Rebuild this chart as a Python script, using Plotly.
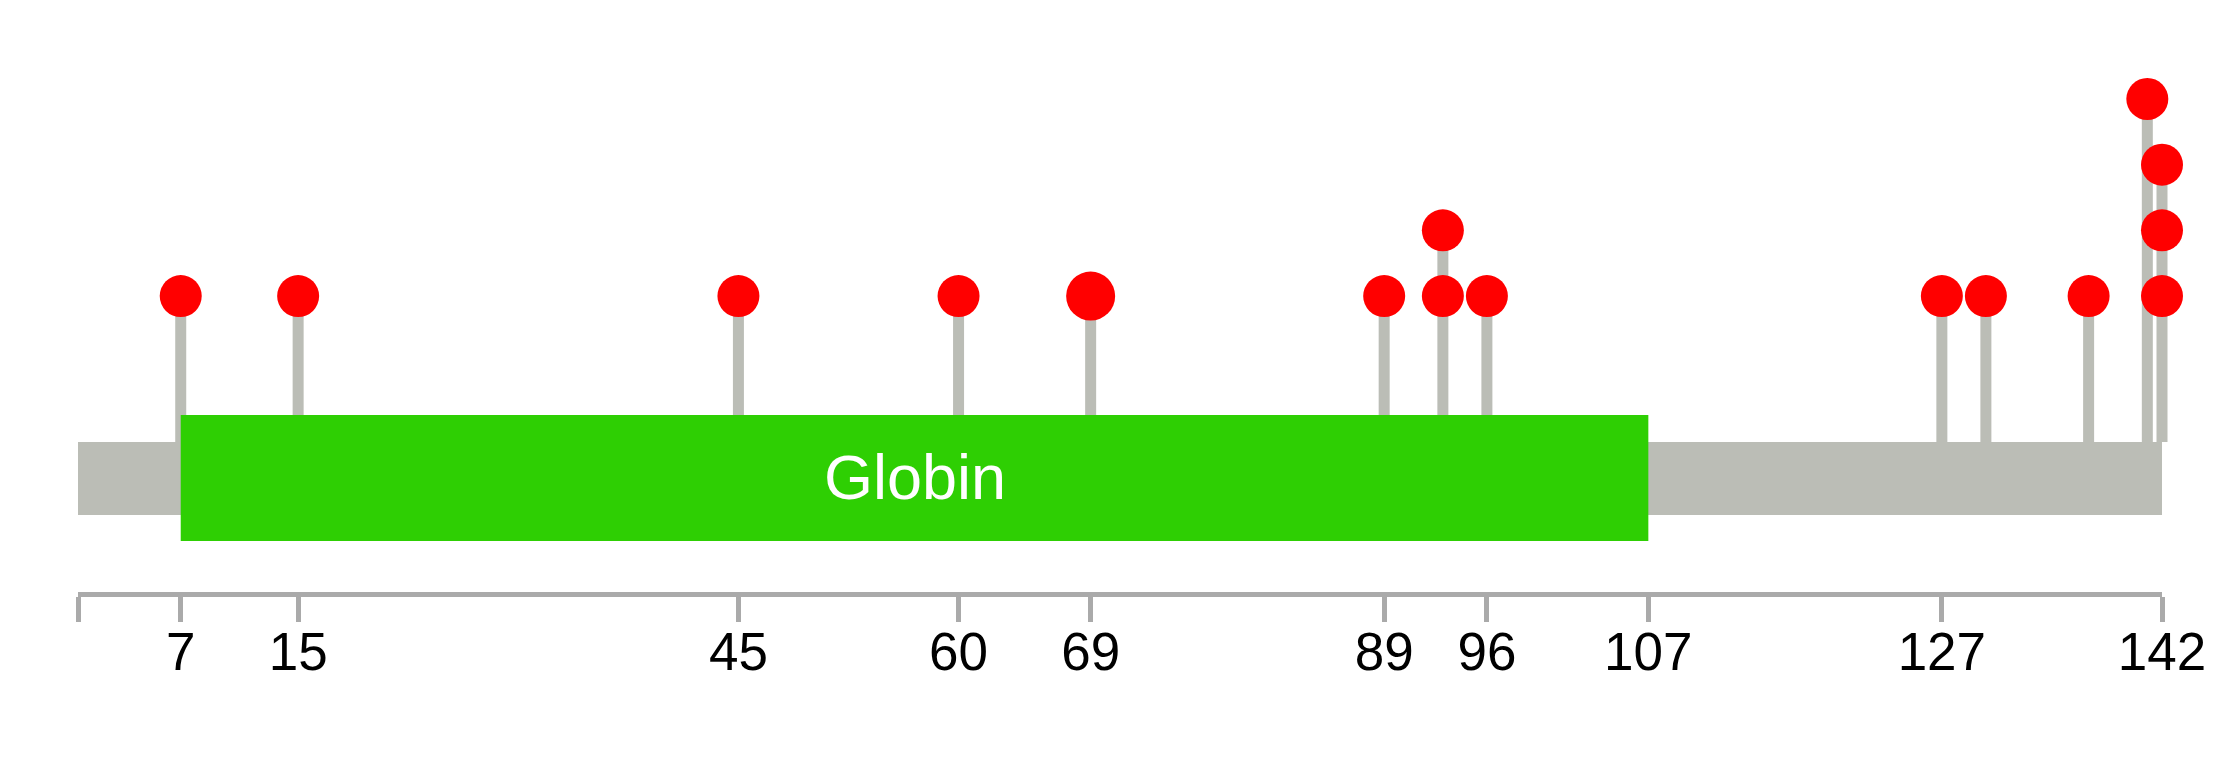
import plotly.graph_objects as go

# ---------------- data ----------------
protein_length = 142
domain_names = ["Globin"]
domain_starts = [7]
domain_ends = [107]

mut_positions = [7, 15, 45, 60, 69, 89, 93, 93, 96, 127, 130, 137, 141, 142, 142, 142]
mut_levels = [1, 1, 1, 1, 1, 1, 1, 2, 1, 1, 1, 1, 4, 1, 2, 3]
mut_samples = [1, 1, 1, 1, 2, 1, 1, 1, 1, 1, 1, 1, 1, 1, 1, 1]

tick_values = [0, 7, 15, 45, 60, 69, 89, 96, 107, 127, 142]
tick_labels = ["", "7", "15", "45", "60", "69", "89", "96", "107", "127", "142"]

# ---------------- layout constants ----------------
W, H = 2239, 776
X_LEFT_PX, X_RIGHT_PX = 78, 2162
PX_PER_UNIT = (X_RIGHT_PX - X_LEFT_PX) / protein_length
LEVEL_PX = 65.67          # vertical pixels per level
LEVEL0_PX = 361.7         # pixel row (from top) of level 0


def lv(px):
    """pixel row (from top) -> y-axis level units"""
    return (LEVEL0_PX - px) / LEVEL_PX


x_min = -X_LEFT_PX / PX_PER_UNIT
x_max = protein_length + (W - X_RIGHT_PX) / PX_PER_UNIT
y_min, y_max = lv(H), lv(0)

GREY = "#BBBDB6"
GREEN = "#2ECF03"
RED = "#FF0000"
AXIS_GREY = "#AAAAAA"

backbone_top, backbone_bot = lv(442), lv(515)
domain_top, domain_bot = lv(415), lv(541)

fig = go.Figure()

# sticks (one per position, up to the highest level)
stick_x, stick_y = [], []
top_by_pos = {}
for p, l in zip(mut_positions, mut_levels):
    top_by_pos[p] = max(top_by_pos.get(p, 0), l)
for p, top in top_by_pos.items():
    stick_x += [p, p, None]
    stick_y += [backbone_top, top, None]
fig.add_trace(go.Scatter(x=stick_x, y=stick_y, mode="lines",
                         line=dict(color=GREY, width=11),
                         hoverinfo="skip", showlegend=False))

# lollipop heads
sizes = [42 + 7 * (s - 1) for s in mut_samples]
fig.add_trace(go.Scatter(x=mut_positions, y=mut_levels, mode="markers",
                         marker=dict(color=RED, size=sizes, opacity=1,
                                     line=dict(width=0)),
                         cliponaxis=False, showlegend=False,
                         hovertemplate="pos %{x}<extra></extra>"))

# invisible trace for the ruler axis
fig.add_trace(go.Scatter(x=[0, protein_length], y=[y_min, y_min], mode="markers",
                         marker=dict(opacity=0), xaxis="x2", yaxis="y",
                         hoverinfo="skip", showlegend=False))

shapes = [
    dict(type="rect", xref="x", yref="y", x0=0, x1=protein_length,
         y0=backbone_bot, y1=backbone_top, fillcolor=GREY,
         line=dict(width=0), layer="below"),
]
annotations = []
for name, s, e in zip(domain_names, domain_starts, domain_ends):
    shapes.append(dict(type="rect", xref="x", yref="y", x0=s, x1=e,
                       y0=domain_bot, y1=domain_top, fillcolor=GREEN,
                       line=dict(width=0), layer="above"))
    annotations.append(dict(x=(s + e) / 2, y=lv(477), xref="x", yref="y",
                            text=name, showarrow=False,
                            font=dict(family="Liberation Sans, Arial", size=63,
                                      color="white"),
                            xanchor="center", yanchor="middle"))

fig.update_layout(
    width=W, height=H, autosize=False,
    margin=dict(l=0, r=0, t=0, b=0, pad=0),
    paper_bgcolor="white", plot_bgcolor="rgba(0,0,0,0)",
    shapes=shapes, annotations=annotations,
    xaxis=dict(range=[x_min, x_max], domain=[0, 1], visible=False,
               fixedrange=True, automargin=False),
    yaxis=dict(range=[y_min, y_max], domain=[0, 1], visible=False,
               fixedrange=True, automargin=False),
    xaxis2=dict(range=[0, protein_length],
                domain=[X_LEFT_PX / W, X_RIGHT_PX / W],
                anchor="free", position=1 - 594 / H, side="bottom",
                automargin=False,
                showline=True, linecolor=AXIS_GREY, linewidth=5,
                ticks="outside", ticklen=25, tickwidth=5, tickcolor=AXIS_GREY,
                ticklabelstandoff=-16,
                tickmode="array", tickvals=tick_values, ticktext=tick_labels,
                tickfont=dict(family="Liberation Sans, Arial", size=53, color="black"),
                showgrid=False, zeroline=False, fixedrange=True),
    showlegend=False,
)

fig.write_html(
    "out.html",
    config={"responsive": False, "displayModeBar": False},
    post_script="document.body.style.margin='0';"
                "document.body.style.padding='0';"
                "document.documentElement.style.overflow='hidden';",
)
